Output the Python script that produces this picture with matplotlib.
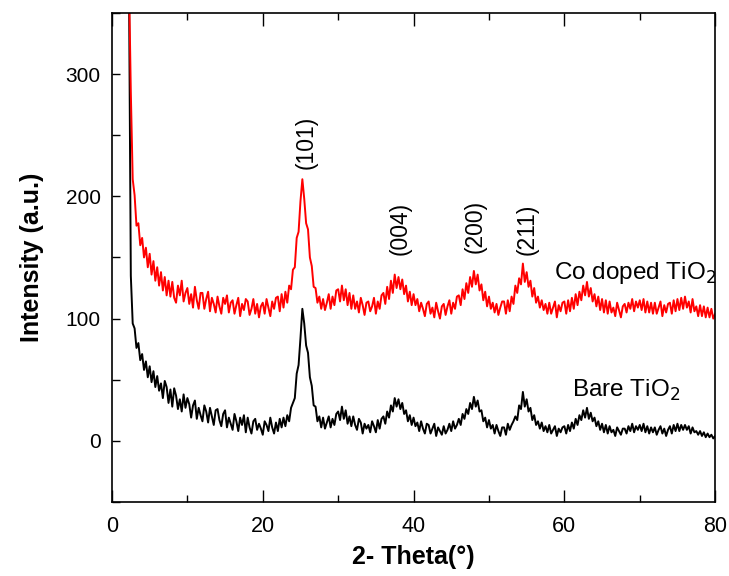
import numpy as np
import matplotlib
matplotlib.use("Agg")
import matplotlib.pyplot as plt
from matplotlib.ticker import MultipleLocator

plt.rcParams['font.family'] = ['Liberation Sans', 'DejaVu Sans']

# XRD scans, sampled every 0.25 deg from 2 to 80 deg (2-theta)
theta_start = 2.0
theta_step = 0.25

bare_tio2 = [
    450, 380, 135, 96, 92, 76, 80, 66,
    71, 58, 65, 52, 61, 48, 57, 44,
    53, 41, 47, 35, 49, 44, 31, 42,
    28, 43, 37, 26, 34, 24, 38, 27,
    35, 30, 19, 29, 33, 18, 27, 21,
    16, 29, 24, 15, 27, 20, 13, 25,
    26, 17, 12, 22, 25, 11, 19, 14,
    9, 22, 16, 8, 19, 13, 21, 7,
    19, 11, 6, 16, 18, 9, 14, 10,
    5, 16, 13, 8, 19, 11, 6, 15,
    8, 18, 11, 19, 12, 21, 16, 27,
    31, 35, 55, 62, 84, 108, 96, 78,
    72, 52, 45, 29, 28, 16, 20, 11,
    19, 10, 15, 20, 11, 18, 13, 22,
    24, 17, 28, 18, 25, 14, 20, 12,
    20, 13, 9, 18, 15, 6, 14, 10,
    13, 7, 16, 12, 7, 17, 10, 18,
    20, 14, 24, 19, 29, 24, 35, 28,
    34, 26, 31, 22, 25, 16, 21, 13,
    19, 12, 15, 8, 16, 10, 6, 14,
    13, 6, 10, 14, 4, 11, 8, 5,
    12, 6, 9, 14, 8, 16, 10, 13,
    18, 13, 22, 18, 26, 22, 31, 26,
    36, 28, 33, 24, 25, 16, 19, 11,
    17, 10, 13, 6, 13, 8, 4, 11,
    11, 5, 14, 9, 13, 16, 20, 17,
    29, 26, 40, 28, 34, 24, 27, 17,
    21, 13, 16, 10, 15, 8, 12, 7,
    13, 6, 9, 12, 4, 10, 7, 11,
    12, 6, 13, 8, 15, 10, 18, 13,
    21, 17, 25, 19, 27, 18, 23, 16,
    19, 12, 16, 9, 14, 7, 13, 6,
    12, 7, 9, 4, 11, 8, 5, 10,
    10, 6, 12, 8, 14, 7, 12, 9,
    13, 8, 14, 7, 12, 6, 11, 7,
    11, 5, 9, 12, 6, 10, 4, 9,
    12, 6, 13, 8, 14, 8, 13, 9,
    13, 9, 12, 6, 11, 7, 8, 5,
    8, 4, 7, 3, 6, 3, 5, 2, 4,
]

co_doped_tio2 = [
    450, 380, 285, 214, 201, 176, 178, 160,
    166, 150, 158, 142, 153, 136, 147, 131,
    142, 127, 138, 123, 134, 119, 131, 118,
    130, 117, 113, 127, 119, 131, 114, 121,
    125, 112, 120, 109, 126, 115, 108, 121,
    121, 108, 116, 122, 106, 117, 112, 105,
    118, 110, 104, 117, 112, 119, 105, 113,
    115, 104, 111, 117, 102, 112, 107, 116,
    114, 103, 108, 116, 104, 112, 101, 110,
    113, 104, 116, 109, 102, 114, 108, 117,
    118, 106, 120, 109, 122, 113, 127, 124,
    140, 142, 166, 171, 196, 214, 198, 178,
    173, 150, 143, 126, 125, 113, 118, 108,
    116, 107, 113, 120, 108, 118, 111, 123,
    124, 114, 127, 115, 124, 111, 121, 108,
    119, 108, 114, 105, 117, 111, 103, 113,
    114, 106, 110, 117, 104, 114, 108, 119,
    121, 112, 126, 116, 131, 121, 136, 125,
    134, 124, 132, 120, 127, 114, 122, 111,
    120, 111, 116, 106, 113, 108, 102, 112,
    114, 104, 109, 101, 113, 106, 100, 110,
    112, 103, 110, 115, 104, 113, 108, 118,
    119, 111, 124, 116, 129, 121, 134, 126,
    139, 128, 136, 123, 128, 115, 122, 110,
    118, 108, 113, 105, 112, 103, 109, 114,
    114, 104, 115, 106, 118, 112, 127, 121,
    133, 128, 145, 130, 138, 126, 131, 118,
    125, 113, 118, 109, 115, 107, 112, 104,
    113, 104, 109, 114, 101, 111, 106, 113,
    114, 104, 115, 106, 117, 108, 120, 111,
    122, 115, 127, 119, 130, 118, 125, 114,
    120, 110, 118, 107, 116, 105, 115, 104,
    114, 105, 109, 102, 113, 107, 101, 110,
    112, 105, 113, 108, 116, 106, 114, 109,
    115, 107, 116, 105, 114, 105, 113, 104,
    113, 104, 109, 114, 102, 111, 105, 112,
    113, 104, 115, 106, 116, 107, 117, 108,
    118, 109, 114, 105, 116, 106, 110, 102,
    111, 102, 110, 101, 109, 101, 108, 100, 104,
]

peak_labels = ['(101)', '(004)', '(200)', '(211)']
peak_x = [25.7, 38.2, 48.2, 55.0]
peak_y = [222, 152, 154, 152]

two_theta = theta_start + theta_step * np.arange(len(bare_tio2))

fig = plt.figure(figsize=(7.29, 5.76), dpi=100)
ax = fig.add_axes([0.1536, 0.1285, 0.8274, 0.8490])

ax.plot(two_theta, bare_tio2, color='black', lw=1.4)
ax.plot(two_theta, co_doped_tio2, color='red', lw=1.4)

ax.set_xlim(0, 80)
ax.set_ylim(-50, 350)
ax.xaxis.set_major_locator(MultipleLocator(20))
ax.xaxis.set_minor_locator(MultipleLocator(10))
ax.yaxis.set_major_locator(MultipleLocator(100))
ax.yaxis.set_minor_locator(MultipleLocator(50))

ax.tick_params(axis='both', which='both', direction='in', top=True, right=False)
ax.tick_params(axis='x', which='major', length=9, width=1, labelsize=15.5, pad=10)
ax.tick_params(axis='x', which='minor', length=5, width=1)
ax.tick_params(axis='y', which='major', length=6, width=1, labelsize=15, pad=8)
ax.tick_params(axis='y', which='minor', length=6, width=1)
for sp in ax.spines.values():
    sp.set_linewidth(1.2)

ax.set_xlabel('2- Theta(°)', fontsize=18, fontweight='bold', labelpad=6)
ax.set_ylabel('Intensity (a.u.)', fontsize=18, fontweight='bold', labelpad=16)

for lab, px, py in zip(peak_labels, peak_x, peak_y):
    ax.text(px, py, lab, rotation=90, ha='center', va='bottom', fontsize=16.5)

ax.text(58.6, 132, 'Co doped TiO$_2$', fontsize=17.5, ha='left', va='baseline')
ax.text(61.0, 36, 'Bare TiO$_2$', fontsize=17.5, ha='left', va='baseline')

fig.savefig('out.png', dpi=100)
